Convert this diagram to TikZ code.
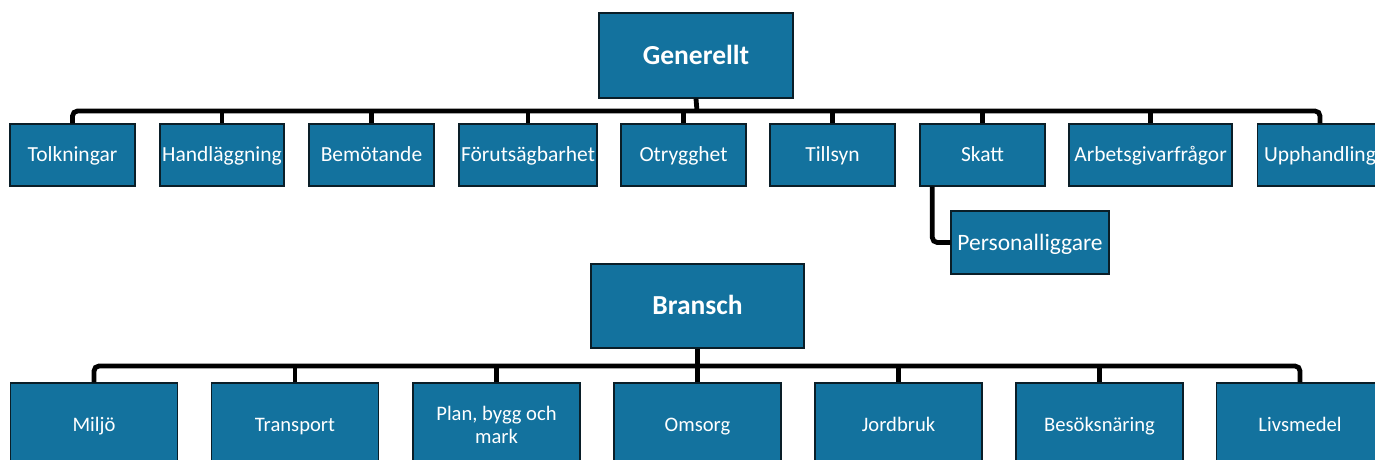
\documentclass[tikz,border=0pt]{standalone}
\usepackage{fontspec}
\setmainfont{Carlito}
\definecolor{boxblue}{RGB}{19,114,158}
\definecolor{boxedge}{RGB}{10,30,40}
\begin{document}
\begin{tikzpicture}[x=1pt,y=-1pt,
  box/.style={draw=boxedge, line width=1.4pt, fill=boxblue, text=white, inner sep=1pt, align=center},
  top/.style={box, text height=17.7pt, text depth=0pt, font=\fontsize{27.5}{32}\selectfont\bfseries},
  rowa/.style={box, text height=13.8pt, text depth=0pt, minimum width=125pt, minimum height=62pt, font=\fontsize{21.5}{25}\selectfont},
  rowb/.style={box, minimum width=167pt, minimum height=84pt, font=\fontsize{20.6}{23}\selectfont},
  oneb/.style={rowb, text height=13.3pt, text depth=0pt},
  conn/.style={line width=4.8pt, black}]
\clip (0,0) rectangle (1375,459);
\fill[white] (0,0) rectangle (1375,459);
% top tree
\node[top, minimum width=194pt, minimum height=85pt] (gen) at (696,55.5) {Generellt};
\node[rowa] (tolk) at (72.5,155) {Tolkningar};
\node[rowa, minimum width=124pt] (handl) at (222,155) {Handläggning};
\node[rowa] (bemo) at (371.5,155) {Bemötande};
\node[rowa, minimum width=138pt] (foru) at (528,155) {Förutsägbarhet};
\node[rowa] (otry) at (683.5,155) {Otrygghet};
\node[rowa] (tills) at (832.5,155) {Tillsyn};
\node[rowa] (skatt) at (982.5,155) {Skatt};
\node[rowa, minimum width=163pt] (arbg) at (1150.5,155) {Arbetsgivarfrågor};
\node[rowa] (upph) at (1320,155) {Upphandling};
\node[rowa, minimum width=158pt, minimum height=63pt, text height=15.1pt, font=\fontsize{23.5}{27}\selectfont] (pers) at (1030,242.5) {Personalliggare};
\coordinate (b1) at (697,111);
\draw[conn] (gen.south) -- (b1);
\draw[conn, rounded corners=5pt] (tolk.north) -- (tolk.north |- b1) -- (upph.north |- b1) -- (upph.north);
\foreach \n in {handl,bemo,foru,otry,tills,skatt,arbg}
  \draw[conn] (\n.north) -- (\n.north |- b1);
\draw[conn, rounded corners=5pt] ([xshift=13pt]skatt.south west) |- (pers.west);
% bottom tree
\node[top, minimum width=213pt, minimum height=84pt] (bran) at (697.5,306) {Bransch};
\node[oneb] (milj) at (94,425) {Miljö};
\node[oneb] (tran) at (295,425) {Transport};
\node[rowb] (plan) at (496.5,425) {Plan, bygg och\\mark};
\node[oneb] (omso) at (697.5,425) {Omsorg};
\node[oneb] (jord) at (898.5,425) {Jordbruk};
\node[oneb] (beso) at (1099.5,425) {Besöksnäring};
\node[oneb] (livs) at (1300,425) {Livsmedel};
\coordinate (b2) at (697.5,366);
\draw[conn] (bran.south) -- (b2);
\draw[conn, rounded corners=5pt] (milj.north) -- (milj.north |- b2) -- (livs.north |- b2) -- (livs.north);
\foreach \n in {tran,plan,omso,jord,beso}
  \draw[conn] (\n.north) -- (\n.north |- b2);
\end{tikzpicture}
\end{document}
